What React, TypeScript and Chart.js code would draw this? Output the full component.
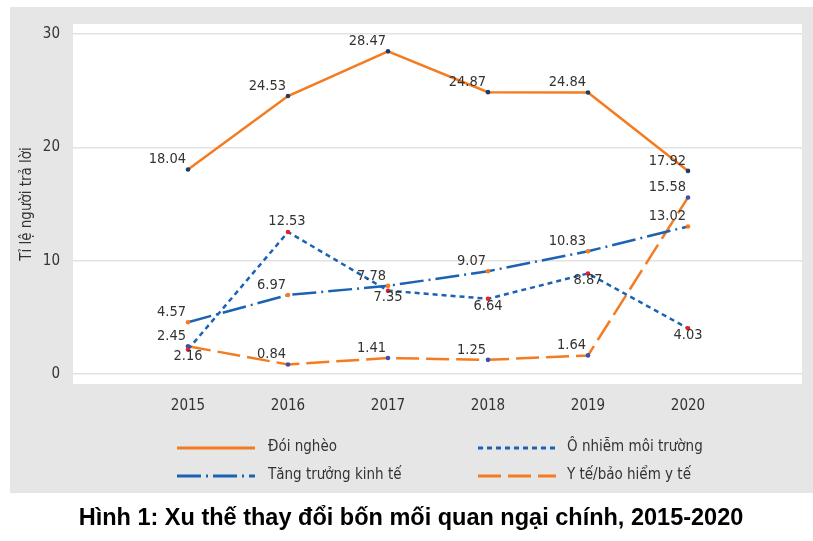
import React, { useEffect, useRef } from 'react';
import { Chart, registerables } from 'chart.js';

Chart.register(...registerables);

// ---- data ----
const years = [2015, 2016, 2017, 2018, 2019, 2020];
const poverty = [18.04, 24.53, 28.47, 24.87, 24.84, 17.92];
const pollution = [2.16, 12.53, 7.35, 6.64, 8.87, 4.03];
const growth = [4.57, 6.97, 7.78, 9.07, 10.83, 13.02];
const health = [2.45, 0.84, 1.41, 1.25, 1.64, 15.58];
const yTicks = [0, 10, 20, 30];
const seriesNames = ['Đói nghèo', 'Ô nhiễm môi trường', 'Tăng trưởng kinh tế', 'Y tế/bảo hiểm y tế'];
const yTitle = 'Tỉ lệ người trả lời';
const figTitle = 'Hình 1: Xu thế thay đổi bốn mối quan ngại chính, 2015-2020';

// ---- styles ----
const ORANGE = '#F47B20';
const BLUE = '#1B62B3';
const TEXT = '#333333';
const NARROW = "'Liberation Sans Narrow', 'DejaVu Sans Condensed', 'Roboto Condensed', sans-serif";
// label anchors per series: tl = above-left (right aligned), t = above, b = below
const labelAnchors = [
  ['tl', 'tl', 'tl', 'tl', 'tl', 'tl'],
  ['b', 't', 'b', 'b', 'b', 'b'],
  ['tl', 'tl', 'tl', 'tl', 'tl', 'tl'],
  ['tl', 'tl', 'tl', 'tl', 'tl', 'tl'],
];

const toPoints = (vals: number[]) => years.map((x, i) => ({ x, y: vals[i] }));

const bgPlugin = {
  id: 'bgPlugin',
  beforeDraw(chart: any) {
    const { ctx, chartArea, width, height } = chart;
    ctx.save();
    ctx.fillStyle = '#ffffff';
    ctx.fillRect(0, 0, width, height);
    ctx.fillStyle = '#e6e6e6';
    ctx.fillRect(10, 7, width - 10, 486);
    ctx.fillStyle = '#ffffff';
    ctx.fillRect(chartArea.left, chartArea.top, chartArea.right - chartArea.left, chartArea.bottom - chartArea.top);
    ctx.restore();
  },
};

const labelPlugin = {
  id: 'labelPlugin',
  afterDatasetsDraw(chart: any) {
    const { ctx } = chart;
    ctx.save();
    ctx.font = `14.5px ${NARROW}`;
    ctx.fillStyle = TEXT;
    ctx.textBaseline = 'middle';
    chart.data.datasets.forEach((ds: any, di: number) => {
      const meta = chart.getDatasetMeta(di);
      meta.data.forEach((pt: any, i: number) => {
        const v = ds.data[i].y.toFixed(2);
        const a = labelAnchors[di][i];
        if (a === 'tl') {
          ctx.textAlign = 'right';
          ctx.fillText(v, pt.x - 2, pt.y - 10);
        } else if (a === 't') {
          ctx.textAlign = 'center';
          ctx.fillText(v, pt.x - 1, pt.y - 11);
        } else {
          ctx.textAlign = 'center';
          ctx.fillText(v, pt.x, pt.y + 7);
        }
      });
    });
    ctx.restore();
  },
};

const legendPlugin = {
  id: 'legendPlugin',
  afterDraw(chart: any) {
    const { ctx } = chart;
    const cols = [177, 478];
    const rows = [448, 476];
    ctx.save();
    chart.data.datasets.forEach((ds: any, i: number) => {
      const x = cols[i % 2];
      const y = rows[Math.floor(i / 2)];
      ctx.strokeStyle = ds.borderColor;
      ctx.lineWidth = 3;
      ctx.setLineDash(ds.borderDash || []);
      ctx.beginPath();
      ctx.moveTo(x, y);
      ctx.lineTo(x + 78, y);
      ctx.stroke();
      ctx.setLineDash([]);
      ctx.fillStyle = TEXT;
      ctx.font = `15px ${NARROW}`;
      ctx.textAlign = 'left';
      ctx.textBaseline = 'middle';
      ctx.fillText(ds.label, x + (i % 2 === 0 ? 91 : 89), y - 1);
    });
    ctx.font = `bold 23.5px 'Liberation Sans', Arial, sans-serif`;
    ctx.fillStyle = '#000000';
    ctx.textAlign = 'center';
    ctx.textBaseline = 'middle';
    ctx.fillText(figTitle, 411, 519);
    ctx.restore();
  },
};

export default function App() {
  const ref = useRef<HTMLCanvasElement | null>(null);
  useEffect(() => {
    if (!ref.current) return;
    const tickFont = { family: NARROW, size: 15 };
    const chart = new Chart(ref.current, {
      type: 'line',
      data: {
        datasets: [
          {
            label: seriesNames[0],
            data: toPoints(poverty),
            borderColor: ORANGE,
            borderWidth: 2.5,
            pointRadius: 2.3,
            pointBackgroundColor: '#1d3d66',
            pointBorderWidth: 0,
          },
          {
            label: seriesNames[1],
            data: toPoints(pollution),
            borderColor: BLUE,
            borderWidth: 2.5,
            borderDash: [5, 4],
            pointRadius: 2.3,
            pointBackgroundColor: '#e8202a',
            pointBorderWidth: 0,
          },
          {
            label: seriesNames[2],
            data: toPoints(growth),
            borderColor: BLUE,
            borderWidth: 2.5,
            borderDash: [24, 5, 2, 5],
            pointRadius: 2.3,
            pointBackgroundColor: ORANGE,
            pointBorderWidth: 0,
          },
          {
            label: seriesNames[3],
            data: toPoints(health),
            borderColor: ORANGE,
            borderWidth: 2.5,
            borderDash: [23, 7],
            pointRadius: 2.3,
            pointBackgroundColor: '#3a4fb0',
            pointBorderWidth: 0,
          },
        ],
      },
      options: {
        animation: false,
        responsive: false,
        maintainAspectRatio: false,
        layout: { padding: { top: 24, right: 11, bottom: 0, left: 0 } },
        plugins: {
          legend: { display: false },
          tooltip: { enabled: false },
          title: { display: false },
        },
        elements: { line: { tension: 0 } },
        scales: {
          x: {
            type: 'linear',
            min: 2013.85,
            max: 2021.14,
            grid: { display: false, drawTicks: false },
            border: { display: false },
            ticks: { padding: 13, font: tickFont, color: TEXT, callback: (v: any) => String(v) },
            afterBuildTicks: (axis: any) => {
              axis.ticks = years.map((v) => ({ value: v }));
            },
            afterFit: (s: any) => {
              s.height = 157;
            },
          },
          y: {
            type: 'linear',
            min: -0.882,
            max: 30.882,
            grid: { color: '#e2e2e2', lineWidth: 1.5, drawTicks: false },
            border: { display: false },
            ticks: { padding: 13, font: tickFont, color: TEXT },
            afterBuildTicks: (axis: any) => {
              axis.ticks = yTicks.map((v) => ({ value: v }));
            },
            afterFit: (s: any) => {
              s.width = 73;
            },
            title: {
              display: true,
              text: yTitle,
              color: TEXT,
              font: { family: NARROW, size: 15 },
              padding: { top: 18, bottom: 0 },
            },
          },
        },
      } as any,
      plugins: [bgPlugin, labelPlugin, legendPlugin],
    });
    return () => chart.destroy();
  }, []);
  return (
    <div style={{ position: 'fixed', left: 0, top: 0, width: 813, height: 541 }}>
      <canvas ref={ref} width={813} height={541} style={{ width: 813, height: 541, display: 'block' }} />
    </div>
  );
}
